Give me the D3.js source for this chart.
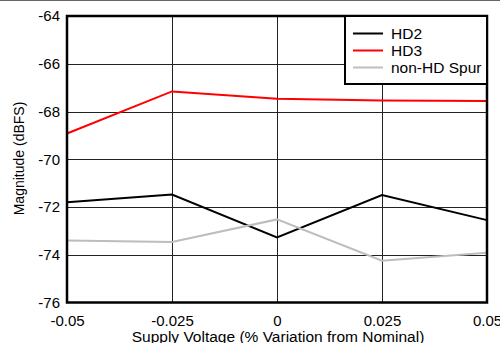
<!DOCTYPE html>
<html lang="en">
<head>
    <meta charset="UTF-8">
    <script src="https://d3js.org/d3.v7.min.js"></script>
    <title>Magnitude vs Supply Voltage</title>
    <style>
        body { margin: 0; background: #fff; }
        svg { display: block; font-family: "Liberation Sans", Arial, sans-serif; }
    </style>
</head>
<body>
    <svg width="500" height="343"></svg>
    <script>
        const supply = [-0.05, -0.025, 0, 0.025, 0.05];
        const hd2 = [-71.8, -71.48, -73.27, -71.5, -72.55];
        const hd3 = [-68.92, -67.16, -67.47, -67.54, -67.56];
        const spur = [-73.4, -73.47, -72.52, -74.25, -73.92];
        const xTicks = [-0.05, -0.025, 0, 0.025, 0.05];
        const xTickLabels = ['-0.05', '-0.025', '0', '0.025', '0.05'];
        const yTicks = [-64, -66, -68, -70, -72, -74, -76];

        const series = [
            { name: 'HD2', values: hd2, color: '#000000' },
            { name: 'HD3', values: hd3, color: '#ff0000' },
            { name: 'non-HD Spur', values: spur, color: '#bdbdbd' }
        ];

        const plotLeft = 67, plotRight = 487, plotTop = 16, plotBottom = 302.5;

        const x = d3.scaleLinear().domain([-0.05, 0.05]).range([plotLeft, plotRight]);
        const y = d3.scaleLinear().domain([-76, -64]).range([plotBottom, plotTop]);

        const svg = d3.select('svg');

        // top frame line
        svg.append('line')
            .attr('x1', 0).attr('x2', 500)
            .attr('y1', 0.5).attr('y2', 0.5)
            .attr('stroke', '#666').attr('stroke-width', 1);

        // grid
        const grid = svg.append('g');
        grid.selectAll('.gx')
            .data(xTicks.slice(1, -1))
            .enter().append('line')
            .attr('x1', d => Math.round(x(d)) + 0.5).attr('x2', d => Math.round(x(d)) + 0.5)
            .attr('y1', plotTop).attr('y2', plotBottom)
            .attr('stroke', '#222').attr('stroke-width', 1);
        grid.selectAll('.gy')
            .data(yTicks.slice(1, -1))
            .enter().append('line')
            .attr('x1', plotLeft).attr('x2', plotRight)
            .attr('y1', d => Math.round(y(d)) + 0.5).attr('y2', d => Math.round(y(d)) + 0.5)
            .attr('stroke', '#222').attr('stroke-width', 1);

        // lines
        const line = d3.line()
            .x((d, i) => x(supply[i]))
            .y(d => y(d));

        svg.selectAll('.series')
            .data(series)
            .enter().append('path')
            .attr('d', d => line(d.values))
            .attr('fill', 'none')
            .attr('stroke', d => d.color)
            .attr('stroke-width', 2);

        // plot border
        svg.append('rect')
            .attr('x', plotLeft).attr('y', plotTop)
            .attr('width', plotRight - plotLeft).attr('height', plotBottom - plotTop)
            .attr('fill', 'none')
            .attr('stroke', '#000').attr('stroke-width', 2.5);

        // axes
        const yAxis = d3.axisLeft(y)
            .tickValues(yTicks)
            .tickFormat(d => String(d))
            .tickSize(0)
            .tickPadding(7);
        svg.append('g')
            .attr('transform', `translate(${plotLeft}, 0)`)
            .call(yAxis)
            .call(g => g.select('.domain').remove())
            .selectAll('text')
            .attr('font-size', 15)
            .attr('font-family', '"Liberation Sans", Arial, sans-serif')
            .attr('fill', '#000');

        const xAxis = d3.axisBottom(x)
            .tickValues(xTicks)
            .tickFormat((d, i) => xTickLabels[i])
            .tickSize(0)
            .tickPadding(13);
        svg.append('g')
            .attr('transform', `translate(0, ${plotBottom})`)
            .call(xAxis)
            .call(g => g.select('.domain').remove())
            .selectAll('text')
            .attr('font-size', 15)
            .attr('font-family', '"Liberation Sans", Arial, sans-serif')
            .attr('fill', '#000');

        // axis titles
        svg.append('text')
            .attr('x', 278)
            .attr('y', 342)
            .attr('text-anchor', 'middle')
            .attr('font-size', 15.5)
            .text('Supply Voltage (% Variation from Nominal)');

        svg.append('text')
            .attr('transform', 'translate(24, 158.5) rotate(-90)')
            .attr('text-anchor', 'middle')
            .attr('font-size', 14)
            .text('Magnitude (dBFS)');

        // legend
        const legend = svg.append('g');
        legend.append('rect')
            .attr('x', 345).attr('y', plotTop)
            .attr('width', plotRight - 345).attr('height', 68)
            .attr('fill', '#fff')
            .attr('stroke', '#000').attr('stroke-width', 2);
        const items = legend.selectAll('.item')
            .data(series)
            .enter().append('g')
            .attr('transform', (d, i) => `translate(353, ${33.5 + i * 17})`);
        items.append('line')
            .attr('x1', 0).attr('x2', 30)
            .attr('stroke', d => d.color).attr('stroke-width', 2);
        items.append('text')
            .attr('x', 38).attr('y', 5)
            .attr('font-size', 15.5)
            .text(d => d.name);
    </script>
</body>
</html>
